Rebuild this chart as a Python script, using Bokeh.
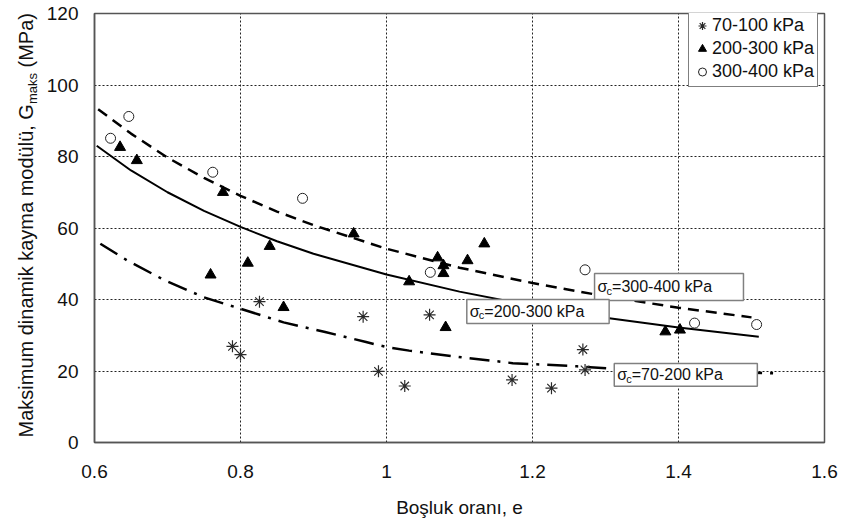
import math
from bokeh.plotting import figure
from bokeh.layouts import row
from bokeh.models import (Range1d, FixedTicker, CustomJSTickFormatter, Legend, LegendItem,
                          BoxAnnotation, Label)
from bokeh.embed import file_html
from bokeh.resources import INLINE

# ---------------- data ----------------
ast_e = [0.789, 0.800, 0.826, 0.968, 0.989, 1.025, 1.059, 1.172, 1.226, 1.269, 1.272]
ast_g = [26.9, 24.6, 39.4, 35.2, 19.9, 15.8, 35.7, 17.5, 15.2, 26.0, 20.3]

tri_e = [0.635, 0.658, 0.759, 0.776, 0.810, 0.840, 0.859, 0.955, 1.031, 1.070, 1.078,
         1.078, 1.081, 1.111, 1.134, 1.382, 1.402]
tri_g = [82.6, 78.9, 46.9, 70.0, 50.2, 54.9, 37.8, 58.4, 45.0, 51.7, 49.5,
         47.3, 32.2, 50.9, 55.6, 31.0, 31.5]

circ_e = [0.622, 0.647, 0.762, 0.885, 1.060, 1.272, 1.422, 1.507]
circ_g = [85.1, 91.2, 75.6, 68.3, 47.6, 48.3, 33.4, 33.0]

hi_e = [0.605, 0.65, 0.7, 0.75, 0.8, 0.85, 0.9, 1.0, 1.1, 1.2, 1.3, 1.4, 1.5]
hi_g = [93.2, 86.4, 79.7, 74.0, 69.0, 64.6, 60.8, 54.2, 48.9, 44.6, 40.9, 37.7, 35.0]

mid_e = [0.603, 0.65, 0.7, 0.75, 0.8, 0.85, 0.9, 1.0, 1.1, 1.2, 1.3, 1.4, 1.51]
mid_g = [83.0, 76.1, 70.0, 64.8, 60.3, 56.3, 52.8, 47.0, 42.2, 38.2, 34.9, 32.2, 29.6]

low_e = [0.608, 0.645, 0.695, 0.75, 0.8, 0.859, 0.916, 0.972, 1.0, 1.031, 1.088,
         1.173, 1.261, 1.307, 1.4, 1.537]
low_g = [55.6, 50.9, 45.5, 40.6, 37.4, 33.6, 30.9, 28.1, 26.7, 25.7, 24.2,
         22.2, 21.3, 20.7, 20.0, 19.3]

legend_labels = ["70-100 kPa", "200-300 kPa", "300-400 kPa"]
x_ticks = [0.6, 0.8, 1.0, 1.2, 1.4, 1.6]
y_ticks = [0, 20, 40, 60, 80, 100, 120]

# fit annotation boxes (data units): left, right, top, bottom
ann_text = ["=300-400 kPa", "=200-300 kPa", "=70-200 kPa"]
ann_left = [1.285, 1.110, 1.312]
ann_right = [1.489, 1.305, 1.508]
ann_top = [47.3, 40.0, 22.1]
ann_bottom = [39.7, 33.3, 15.7]

x_title = "Boşluk oranı, e"
y_title_parts = ["Maksimum dinamik kayma modülü, G", "maks", "(MPa)"]

FONT = "Liberation Sans"
X0, X1, Y0, Y1 = 0.6, 1.6, 0, 120
W, H = 843, 522
LEFT_W = 40
B_TOP, B_BOTTOM = 13, 80
FRAME_H = H - B_TOP - B_BOTTOM

# ---------------- main chart ----------------
p = figure(width=W - LEFT_W, height=H, output_backend="svg", toolbar_location=None,
           x_range=Range1d(X0, X1), y_range=Range1d(Y0, Y1),
           min_border_left=94 - LEFT_W, min_border_right=19, min_border_top=B_TOP,
           min_border_bottom=B_BOTTOM, background_fill_color="white", border_fill_color="white")

p.outline_line_color = "#555555"
p.outline_line_width = 1.5

for ax in (p.xaxis[0], p.yaxis[0]):
    ax.axis_line_color = "#555555"
    ax.axis_line_width = 1.5
    ax.major_tick_in = 0
    ax.major_tick_out = 0
    ax.minor_tick_in = 0
    ax.minor_tick_out = 0
    ax.major_label_text_font = FONT
    ax.major_label_text_font_size = "19px"
    ax.major_label_text_color = "#111111"

p.xaxis.ticker = FixedTicker(ticks=x_ticks)
p.yaxis.ticker = FixedTicker(ticks=y_ticks)
p.xaxis.formatter = CustomJSTickFormatter(code="return (Math.round(tick*10)/10).toString();")
p.xaxis.major_label_standoff = 22
p.yaxis.major_label_standoff = 16
p.xaxis.axis_label = x_title
p.xaxis.axis_label_text_font = FONT
p.xaxis.axis_label_text_font_size = "19px"
p.xaxis.axis_label_text_font_style = "normal"
p.xaxis.axis_label_text_color = "#111111"
p.xaxis.axis_label_standoff = 16

for g in (p.xgrid[0], p.ygrid[0]):
    g.grid_line_color = "#222222"
    g.grid_line_dash = "2 2"
    g.grid_line_width = 1

# fitted curves
p.line(hi_e, hi_g, line_color="black", line_width=2.5, line_dash="11 7", line_join="round")
p.line(mid_e, mid_g, line_color="black", line_width=2, line_join="round")
p.line(low_e, low_g, line_color="black", line_width=2.5, line_dash="20 8 3 8", line_join="round")

# data points
r_ast = p.scatter(ast_e, ast_g, marker="asterisk", size=12, line_color="#2a2a2a", line_width=1.2)
r_tri = p.scatter(tri_e, tri_g, marker="triangle", size=11, fill_color="black", line_color="black")
r_circ = p.scatter(circ_e, circ_g, marker="circle", size=10, fill_color="white",
                   line_color="#222222", line_width=1)

# annotation boxes
for i in range(3):
    p.add_layout(BoxAnnotation(left=ann_left[i], right=ann_right[i], top=ann_top[i],
                               bottom=ann_bottom[i], fill_color="white", fill_alpha=1,
                               line_color="#808080", line_width=1.5, line_alpha=1))
    ym = (ann_top[i] + ann_bottom[i]) / 2
    p.add_layout(Label(x=ann_left[i], y=ym, x_offset=3, text="σ", text_font=FONT,
                       text_font_size="16px", text_baseline="middle", text_color="#111111"))
    p.add_layout(Label(x=ann_left[i], y=ym, x_offset=12, y_offset=-4, text="c", text_font=FONT,
                       text_font_size="11px", text_baseline="middle", text_color="#111111"))
    p.add_layout(Label(x=ann_left[i], y=ym, x_offset=17.5, text=ann_text[i], text_font=FONT,
                       text_font_size="16px", text_baseline="middle", text_color="#111111"))

# legend
legend = Legend(items=[LegendItem(label=legend_labels[0], renderers=[r_ast]),
                       LegendItem(label=legend_labels[1], renderers=[r_tri]),
                       LegendItem(label=legend_labels[2], renderers=[r_circ])],
                location=(594, 355))
legend.border_line_color = "black"
legend.border_line_width = 1
legend.background_fill_color = "white"
legend.background_fill_alpha = 1
legend.label_text_font = FONT
legend.label_text_font_size = "18px"
legend.label_text_color = "#111111"
legend.glyph_width = 20
legend.glyph_height = 23
legend.label_standoff = 0
legend.label_height = 23
legend.padding = 3
legend.spacing = 0
legend.margin = 0
p.add_layout(legend)

# ---------------- left strip holding the rotated y-axis title ----------------
# its frame is aligned with the main frame: data units = pixels above the frame bottom
t = figure(width=LEFT_W, height=H, output_backend="svg", toolbar_location=None,
           x_range=Range1d(0, LEFT_W), y_range=Range1d(0, FRAME_H),
           x_axis_location=None, y_axis_location=None,
           min_border_left=0, min_border_right=0, min_border_top=B_TOP,
           min_border_bottom=B_BOTTOM,
           background_fill_color="white", border_fill_color="white")
t.outline_line_color = None
t.xgrid.visible = False
t.ygrid.visible = False

F = 20
w1 = 16.67 * F
ws = 2.389 * 13
yb = 5
t.add_layout(Label(x=25, y=yb, angle=math.pi / 2,
                   text=y_title_parts[0], text_font=FONT, text_font_size=f"{F}px",
                   text_align="left", text_baseline="middle", text_color="#111111"))
t.add_layout(Label(x=32, y=yb + w1, angle=math.pi / 2,
                   text=y_title_parts[1], text_font=FONT, text_font_size="13px",
                   text_align="left", text_baseline="middle", text_color="#111111"))
t.add_layout(Label(x=25, y=yb + w1 + ws + 0.278 * F, angle=math.pi / 2,
                   text=y_title_parts[2], text_font=FONT, text_font_size=f"{F}px",
                   text_align="left", text_baseline="middle", text_color="#111111"))

layout = row(t, p, spacing=0)
open("out.html", "w").write(file_html(layout, INLINE))
